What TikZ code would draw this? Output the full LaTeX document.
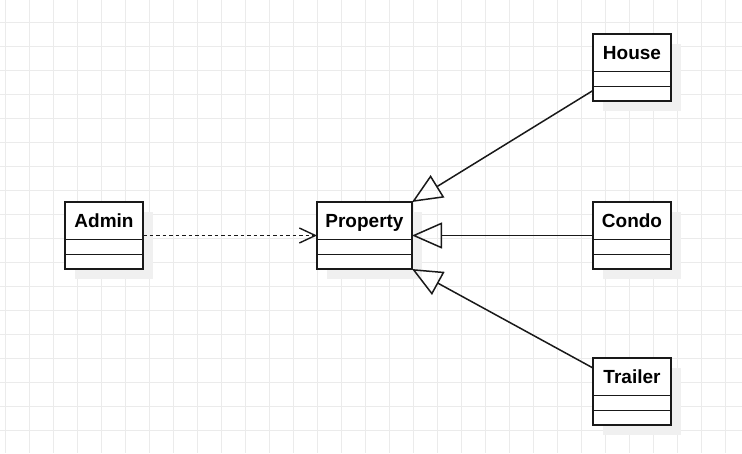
\documentclass[tikz,border=0pt]{standalone}
\usepackage{fontspec}
\setmainfont{Liberation Sans}
\usetikzlibrary{arrows.meta,calc}
\tikzset{
  gridline/.style={draw=black!8, line width=1pt},
  shadowbox/.style={fill=black!6, draw=none},
  classbox/.style={draw=black!90, line width=1.6pt, fill=white, minimum width=78pt, minimum height=67pt, inner sep=0pt, outer sep=0pt},
  divider/.style={draw=black!90, line width=1.2pt},
  title/.style={font=\fontsize{19}{22}\selectfont\bfseries, anchor=base, inner sep=0pt},
  inherit/.style={draw=black!90, line width=1.5pt, -{Triangle[open, length=30pt, width=26pt, line width=1.5pt]}},
  depend/.style={draw=black!90, line width=1.4pt, dash pattern=on 3.5pt off 3pt, -{Straight Barb[length=16pt, width=15pt, line width=1.4pt]}}
}
\newcommand{\umlclass}[5]{% name, cx, top, width, text
  \fill[shadowbox] ({#2-#4/2+9.5},{#3+9.5}) rectangle ({#2+#4/2+9.5},{#3+67+9.5});
  \node[classbox, minimum width=#4pt] (#1) at (#2,{#3+33.5}) {};
  \node[title] (#1-t) at (#2,{#3+25.5}) {#5};
  \draw[divider] ($(#1.north west)+(0,37.5)$) -- ($(#1.north east)+(0,37.5)$);
  \draw[divider] ($(#1.north west)+(0,52.5)$) -- ($(#1.north east)+(0,52.5)$);
}
\begin{document}
\begin{tikzpicture}[x=1pt, y=-1pt]
\useasboundingbox (0,0) rectangle (742,453);
\fill[white] (0,0) rectangle (742,453);
\foreach \i in {0,...,30} { \draw[gridline] ({5.5+24*\i},0) -- ({5.5+24*\i},453); }
\foreach \j in {0,...,18} { \draw[gridline] (0,{22.5+24*\j}) -- (742,{22.5+24*\j}); }

\umlclass{admin}{104}{202}{78}{Admin}
\umlclass{property}{364.5}{202}{95}{Property}
\umlclass{house}{632}{34}{78}{House}
\umlclass{condo}{632}{202}{78}{Condo}
\umlclass{trailer}{632}{358}{78}{Trailer}

\draw[depend] (admin.east) -- (property.west);
\draw[inherit] ($(house.south west)+(0,-10.5)$) -- (property.north east);
\draw[inherit] (condo.west) -- (property.east);
\draw[inherit] ($(trailer.north west)+(0,10)$) -- (property.south east);
\end{tikzpicture}
\end{document}
